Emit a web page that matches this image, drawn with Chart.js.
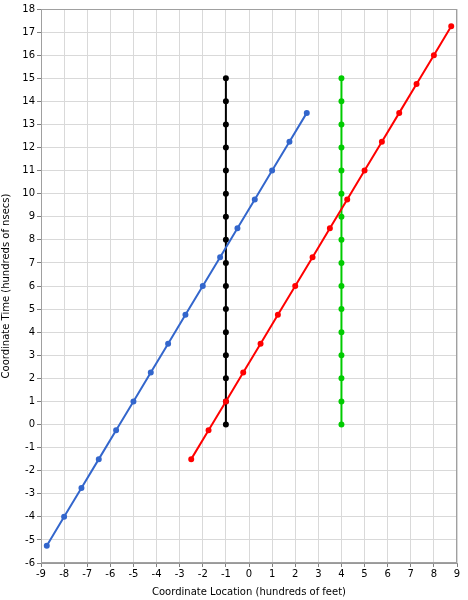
<!DOCTYPE html>
<html>
<head>
<meta charset="utf-8">
<script src="https://cdn.jsdelivr.net/npm/chart.js@4"></script>
<style>
  html, body { margin: 0; padding: 0; background: #fff; }
  #wrap { width: 468px; height: 600px; }
</style>
</head>
<body>
<div id="wrap"><canvas id="chart" width="468" height="600"></canvas></div>
<script>
// series (hundreds of feet, hundreds of nsecs)
const blueX = [-8.75, -8, -7.25, -6.5, -5.75, -5, -4.25, -3.5, -2.75, -2, -1.25, -0.5, 0.25, 1, 1.75, 2.5];
const blueY = [-5.25, -4, -2.75, -1.5, -0.25, 1, 2.25, 3.5, 4.75, 6, 7.25, 8.5, 9.75, 11, 12.25, 13.5];
const redX = [-2.5, -1.75, -1, -0.25, 0.5, 1.25, 2, 2.75, 3.5, 4.25, 5, 5.75, 6.5, 7.25, 8, 8.75];
const redY = [-1.5, -0.25, 1, 2.25, 3.5, 4.75, 6, 7.25, 8.5, 9.75, 11, 12.25, 13.5, 14.75, 16, 17.25];
const blackX = [-1, -1, -1, -1, -1, -1, -1, -1, -1, -1, -1, -1, -1, -1, -1, -1];
const blackY = [0, 1, 2, 3, 4, 5, 6, 7, 8, 9, 10, 11, 12, 13, 14, 15];
const greenX = [4, 4, 4, 4, 4, 4, 4, 4, 4, 4, 4, 4, 4, 4, 4, 4];
const greenY = [0, 1, 2, 3, 4, 5, 6, 7, 8, 9, 10, 11, 12, 13, 14, 15];

const xMin = -9, xMax = 9;
const yMin = -6, yMax = 18;
const xTitle = 'Coordinate Location (hundreds of feet)';
const yTitle = 'Coordinate Time (hundreds of nsecs)';

function pts(xs, ys) {
    return xs.map((x, i) => ({ x: x, y: ys[i] }));
}

function series(xs, ys, color) {
    return {
        data: pts(xs, ys),
        borderColor: color,
        backgroundColor: color,
        borderWidth: 2,
        pointRadius: 2,
        pointHoverRadius: 2,
        showLine: true,
        tension: 0
    };
}

// grey frame round the plot area (top and right edges too)
const frame = {
    id: 'frame',
    beforeDatasetsDraw(chart) {
        const a = chart.chartArea, ctx = chart.ctx;
        ctx.save();
        ctx.strokeStyle = '#a0a0a0';
        ctx.lineWidth = 1;
        ctx.strokeRect(a.left + 0.5, a.top + 0.5, a.right - a.left - 1, a.bottom - a.top - 1);
        ctx.restore();
    }
};

Chart.defaults.font.family = '"DejaVu Sans", Verdana, sans-serif';
Chart.defaults.font.size = 10;
Chart.defaults.color = '#000';

new Chart(document.getElementById('chart'), {
    type: 'scatter',
    data: {
        datasets: [
            series(blueX, blueY, '#3366cc'),
            series(redX, redY, '#ff0000'),
            series(blackX, blackY, '#000000'),
            series(greenX, greenY, '#00cc00')
        ]
    },
    options: {
        responsive: false,
        animation: false,
        layout: { padding: { top: 9, right: 11, left: 0, bottom: 0 } },
        plugins: { legend: { display: false }, tooltip: { enabled: false } },
        scales: {
            x: {
                type: 'linear',
                min: xMin,
                max: xMax,
                ticks: { stepSize: 1, padding: 1, maxRotation: 0 },
                grid: { color: '#d9d9d9', tickColor: '#808080', tickLength: 4 },
                border: { color: '#999999' },
                title: { display: true, text: xTitle, padding: { top: 0, bottom: 2 } },
                afterFit: (s) => { s.height = 37; }
            },
            y: {
                type: 'linear',
                min: yMin,
                max: yMax,
                ticks: { stepSize: 1, padding: 2 },
                grid: { color: '#d9d9d9', tickColor: '#808080', tickLength: 4 },
                border: { color: '#999999' },
                title: { display: true, text: yTitle, padding: { top: 0, bottom: 2 } },
                afterFit: (s) => { s.width = 41; }
            }
        }
    },
    plugins: [frame]
});
</script>
</body>
</html>
